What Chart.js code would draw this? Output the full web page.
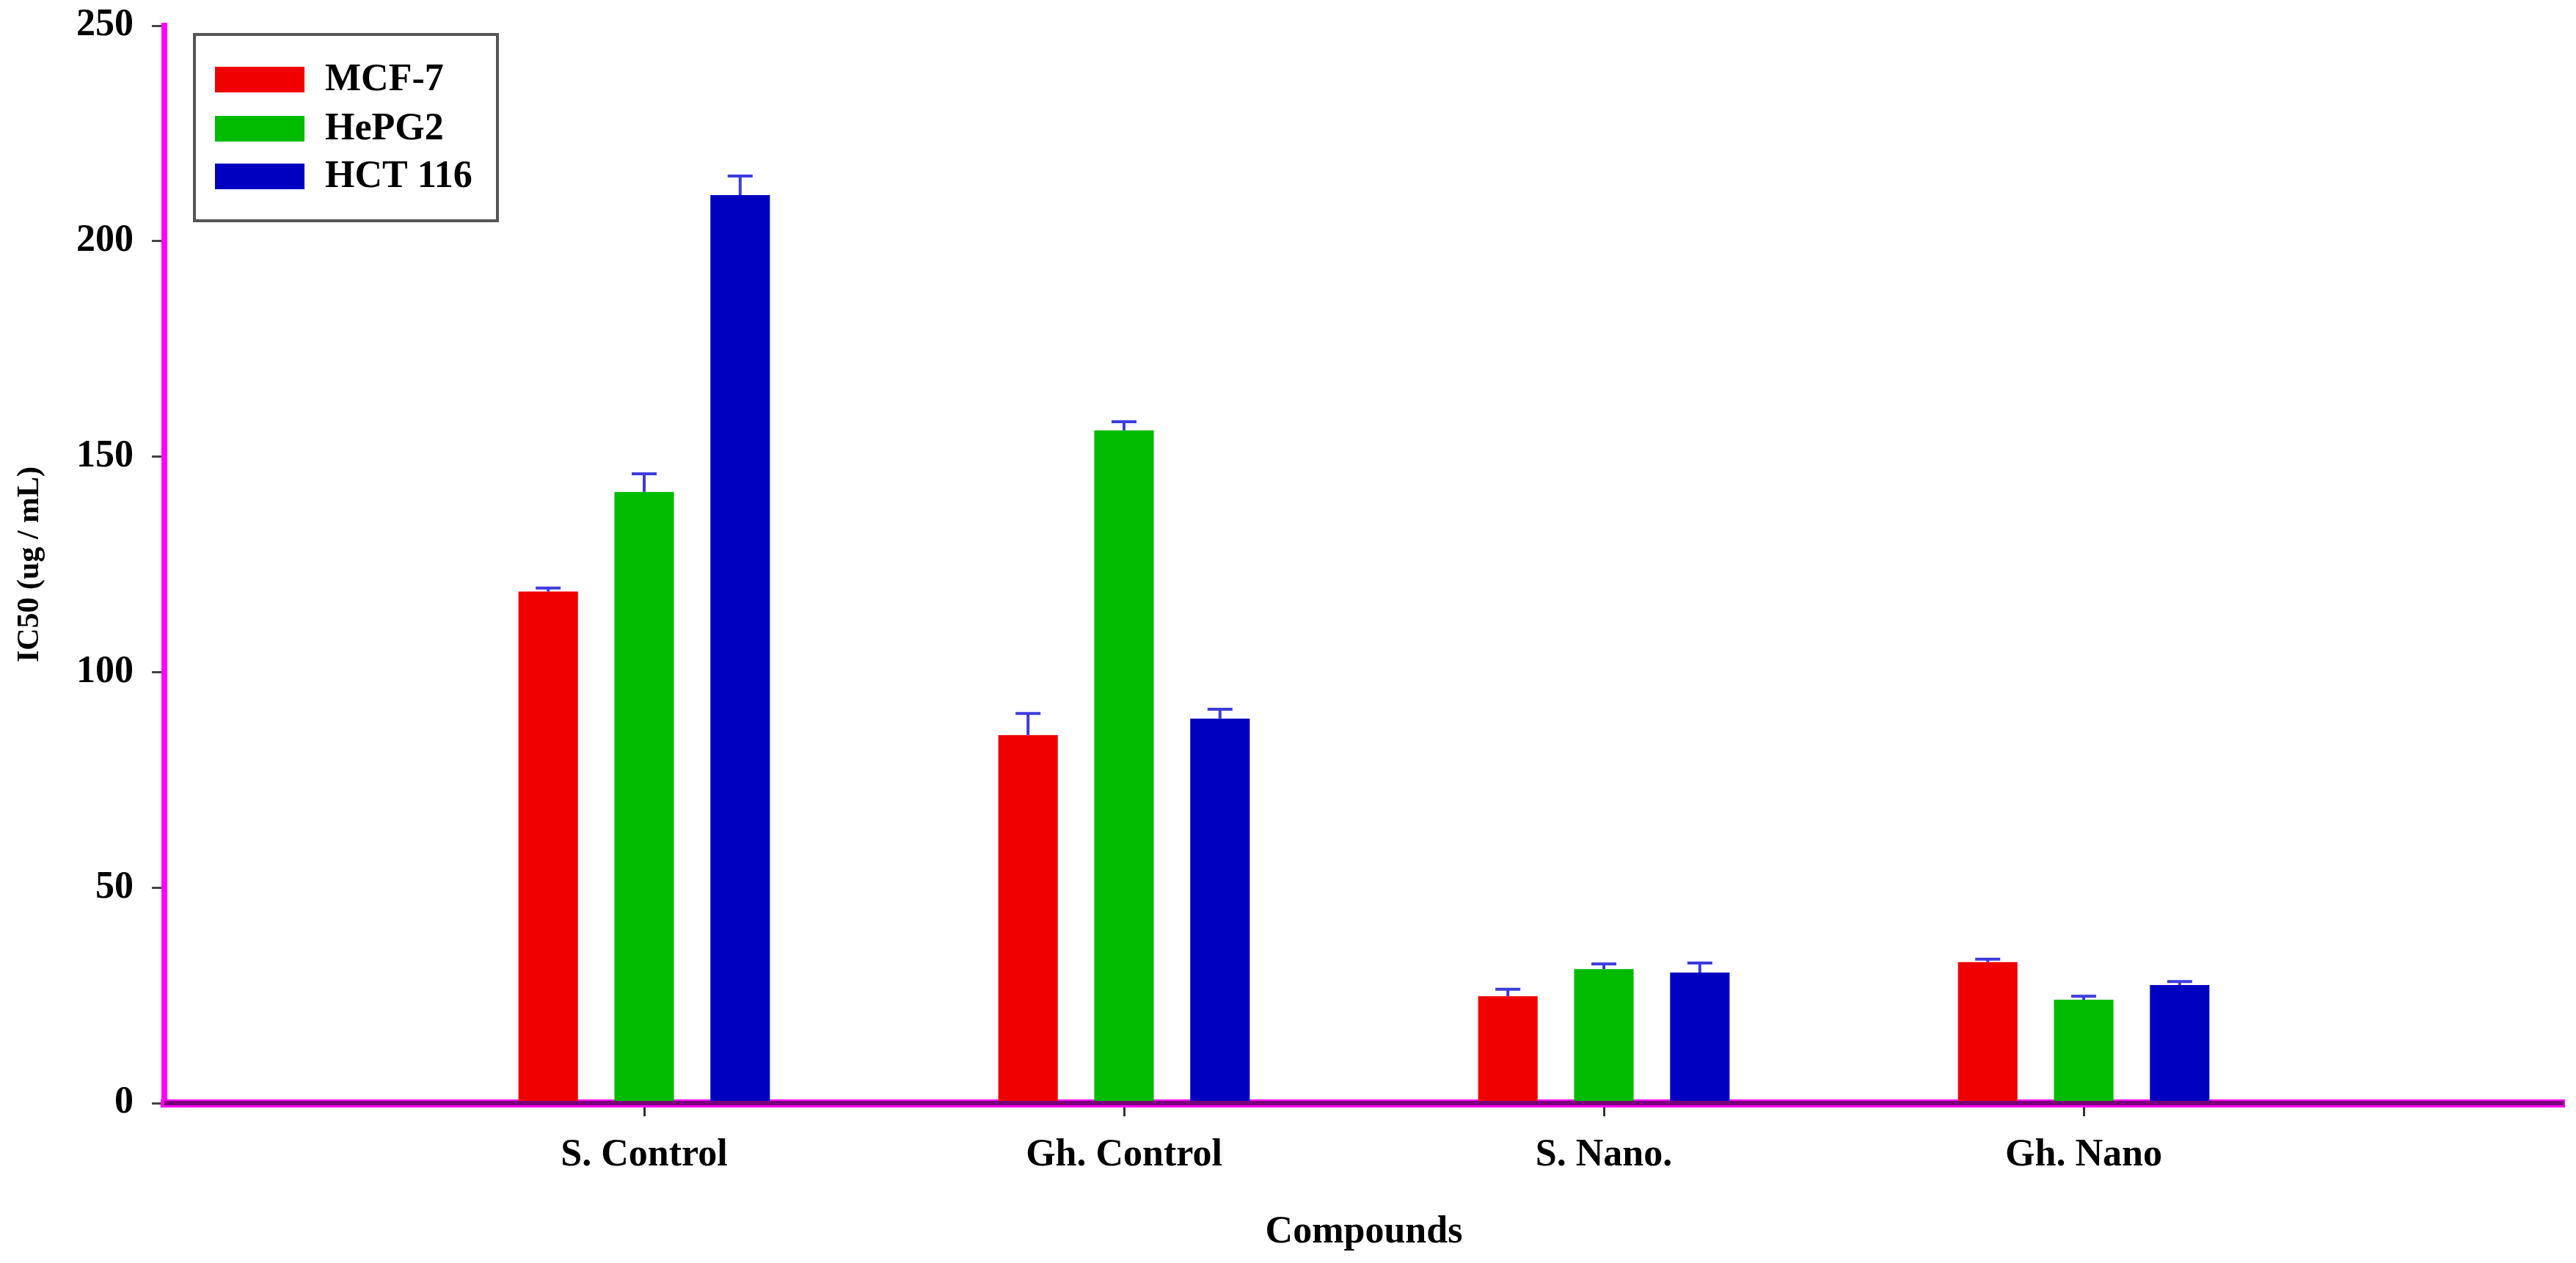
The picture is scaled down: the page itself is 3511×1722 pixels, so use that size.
<!DOCTYPE html>
<html>
<head>
<meta charset="utf-8">
<title>IC50 by compound</title>
<script src="https://cdn.jsdelivr.net/npm/chart.js@4/dist/chart.umd.min.js"></script>
<style>
  html, body { margin: 0; padding: 0; background: #ffffff; overflow: hidden; }
  #wrap { width: 3511px; height: 1722px; }
</style>
</head>
<body>
<div id="wrap"><canvas id="chart" width="3511" height="1722"></canvas></div>
<script>
// Categories (empty slots at both ends leave room like the original axis)
const compounds = ['', 'S. Control', 'Gh. Control', 'S. Nano.', 'Gh. Nano', ''];

// IC50 values (ug / mL)
const mcf7 = [null, 118.7, 85.4, 24.8, 32.7, null];
const hepg2 = [null, 141.8, 156.1, 31.1, 24.0, null];
const hct116 = [null, 210.7, 89.2, 30.3, 27.4, null];

// Upper error bars
const mcf7Err = [null, 0.8, 5.0, 1.6, 0.7, null];
const hepg2Err = [null, 4.2, 2.0, 1.2, 0.8, null];
const hct116Err = [null, 4.4, 2.2, 2.2, 0.8, null];

// Y axis ticks
const yTicks = [0, 50, 100, 150, 200, 250];

const serif = 'Liberation Serif, Times New Roman, serif';

// Draws the upward error bars on top of each bar
const errorBarPlugin = {
  id: 'errorBars',
  afterDatasetsDraw(chart) {
    const ctx = chart.ctx;
    const yScale = chart.scales.y;
    ctx.save();
    ctx.strokeStyle = '#3c3cdc';
    ctx.lineWidth = 4;
    chart.data.datasets.forEach((ds, i) => {
      const meta = chart.getDatasetMeta(i);
      meta.data.forEach((bar, j) => {
        const v = ds.data[j];
        const e = ds.errors[j];
        if (v == null || e == null) return;
        const yTop = yScale.getPixelForValue(v + e);
        ctx.beginPath();
        ctx.moveTo(bar.x, bar.y);
        ctx.lineTo(bar.x, yTop);
        ctx.moveTo(bar.x - 17, yTop);
        ctx.lineTo(bar.x + 17, yTop);
        ctx.stroke();
      });
    });
    ctx.restore();
  }
};

// Purple core of the x axis line plus the boxed legend
const decorPlugin = {
  id: 'decor',
  afterDraw(chart) {
    const ctx = chart.ctx;
    const area = chart.chartArea;
    ctx.save();

    // dark core over the magenta x axis
    ctx.strokeStyle = '#7a007a';
    ctx.lineWidth = 6;
    ctx.beginPath();
    ctx.moveTo(area.left, area.bottom);
    ctx.lineTo(area.right, area.bottom);
    ctx.stroke();

    // legend box
    ctx.strokeStyle = '#555555';
    ctx.lineWidth = 4;
    ctx.strokeRect(265, 47, 413, 254);

    ctx.font = 'bold 52px ' + serif;
    ctx.textBaseline = 'middle';
    ctx.textAlign = 'left';
    const rowY = [108, 175, 240];
    chart.data.datasets.forEach((ds, i) => {
      ctx.fillStyle = ds.backgroundColor;
      ctx.fillRect(293, rowY[i] - 17, 122, 35);
      ctx.fillStyle = '#000000';
      ctx.fillText(ds.label, 443, rowY[i] + 2);
    });
    ctx.restore();
  }
};

new Chart(document.getElementById('chart'), {
  type: 'bar',
  data: {
    labels: compounds,
    datasets: [
      { label: 'MCF-7', data: mcf7, errors: mcf7Err, backgroundColor: '#f00000' },
      { label: 'HePG2', data: hepg2, errors: hepg2Err, backgroundColor: '#00bb00' },
      { label: 'HCT 116', data: hct116, errors: hct116Err, backgroundColor: '#0000c0' }
    ]
  },
  options: {
    responsive: false,
    animation: false,
    events: [],
    categoryPercentage: 0.6,
    barPercentage: 0.62,
    layout: { padding: { top: 35, right: 17, left: 0, bottom: 0 } },
    plugins: {
      legend: { display: false },
      tooltip: { enabled: false }
    },
    scales: {
      x: {
        offset: false,
        z: 1,
        border: { display: true, color: '#ff00ff', width: 11 },
        grid: {
          offset: false,
          drawOnChartArea: false,
          drawTicks: true,
          tickLength: 18,
          lineWidth: 3,
          color: (c) => (c.index === 0 || c.index === compounds.length - 1) ? 'rgba(0,0,0,0)' : '#333333'
        },
        ticks: {
          autoSkip: false,
          maxRotation: 0,
          padding: 22,
          color: '#000000',
          font: { family: serif, size: 52, weight: 'bold' }
        },
        title: {
          display: true,
          text: 'Compounds',
          color: '#000000',
          padding: { top: 0, bottom: 10 },
          font: { family: serif, size: 52, weight: 'bold' }
        },
        afterFit(scale) {
          scale.height = 1722 - 1504;
          scale.paddingLeft = 0;
          scale.paddingRight = 0;
        }
      },
      y: {
        min: 0,
        max: 250,
        z: 1,
        border: { display: true, color: '#ff00ff', width: 8 },
        grid: {
          drawOnChartArea: false,
          drawTicks: true,
          tickLength: 17,
          lineWidth: 3,
          color: '#444444'
        },
        afterBuildTicks(scale) {
          scale.ticks = yTicks.map(v => ({ value: v }));
        },
        ticks: {
          padding: 25,
          color: '#000000',
          font: { family: serif, size: 52, weight: 'bold' }
        },
        title: {
          display: true,
          text: 'IC50 (ug / mL)',
          color: '#000000',
          padding: { top: 16, bottom: 0 },
          font: { family: serif, size: 42, weight: 'bold' }
        },
        afterFit(scale) {
          scale.width = 224;
          // keep the plot top at the 250 tick position of the original
          scale.paddingTop = 0;
          scale.paddingBottom = 0;
        }
      }
    }
  },
  plugins: [errorBarPlugin, decorPlugin]
});
</script>
</body>
</html>
